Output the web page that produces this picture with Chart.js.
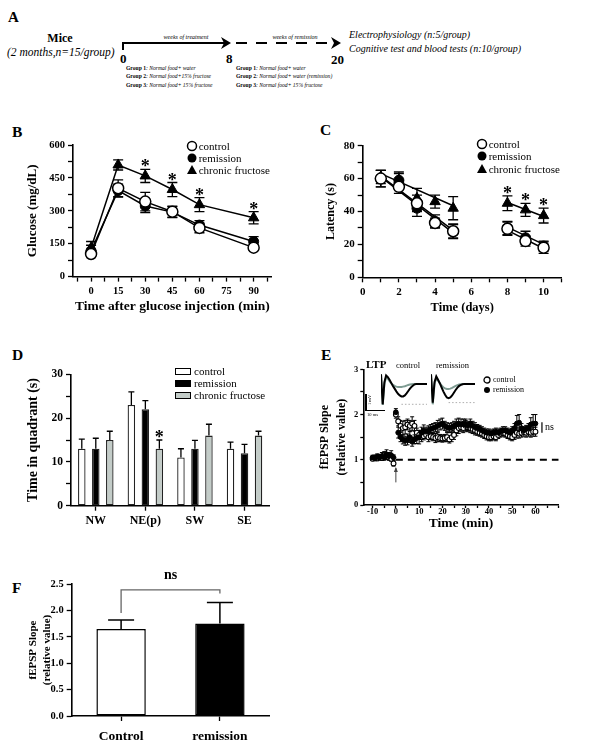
<!DOCTYPE html>
<html lang="en">
<head>
<meta charset="UTF-8">
<title>Fructose remission figure</title>
<script src="https://cdn.jsdelivr.net/npm/chart.js"></script>
<style>
  body { margin: 0; background: #fff; font-family: 'Liberation Serif', 'Times New Roman', serif; color: #000; }
  #fig { position: relative; width: 604px; height: 751px; overflow: hidden; }
  canvas, .abs { position: absolute; }
  .pl { position: absolute; font-weight: bold; font-size: 15.5px; line-height: 16px; }
  .row { position: absolute; height: 12px; line-height: 12px; font-size: 11px; white-space: nowrap; }
  .row svg { position: absolute; left: 0; top: 0; }
  .row span { position: absolute; left: 13px; top: 0; }
  .box { position: absolute; width: 16px; height: 7px; border: 1px solid #000; box-sizing: border-box; }
  .tiny { position: absolute; font-size: 8px; white-space: nowrap; line-height: 10px; }
</style>
</head>
<body>
<div id="fig">
  <!-- panel A: study design -->
  <svg class="abs" style="left:0;top:0" width="604" height="130" font-family="'Liberation Serif', serif">
    <text x="8" y="22" font-size="15" font-weight="bold">A</text>
    <text x="60" y="42" font-size="12" font-weight="bold" text-anchor="middle">Mice</text>
    <text x="7" y="56" font-size="11.5" font-style="italic">(2 months,n=15/group)</text>
    <line x1="123" y1="43" x2="226" y2="43" stroke="#000" stroke-width="2"/>
    <line x1="123" y1="42" x2="123" y2="50" stroke="#000" stroke-width="2"/>
    <polygon points="221,37 231,43 221,49 224,43" fill="#000"/>
    <text x="186" y="39" font-size="6" font-style="italic" text-anchor="middle">weeks of treatment</text>
    <text x="120" y="63" font-size="13" font-weight="bold">0</text>
    <text x="226" y="63" font-size="13" font-weight="bold">8</text>
    <line x1="236" y1="43" x2="333" y2="43" stroke="#000" stroke-width="2" stroke-dasharray="11,9"/>
    <polygon points="331,37 341,43 331,49 334,43" fill="#000"/>
    <text x="295" y="39" font-size="6" font-style="italic" text-anchor="middle">weeks of remission</text>
    <text x="331" y="64" font-size="13" font-weight="bold">20</text>
    <text x="349" y="38" font-size="10" font-style="italic">Electrophysiology (n:5/group)</text>
    <text x="349" y="52" font-size="10" font-style="italic">Cognitive test and blood tests (n:10/group)</text>
    <g font-size="5.6" fill="#000">
      <text x="126" y="69.5"><tspan font-weight="bold">Group 1</tspan><tspan font-style="italic">: Normal food+ water</tspan></text>
      <text x="126" y="78"><tspan font-weight="bold">Group 2</tspan><tspan font-style="italic">: Normal food+15% fructose</tspan></text>
      <text x="126" y="87"><tspan font-weight="bold">Group 3</tspan><tspan font-style="italic">: Normal food+ 15% fructose</tspan></text>
      <text x="236" y="69.5"><tspan font-weight="bold">Group 1</tspan><tspan font-style="italic">: Normal food+ water</tspan></text>
      <text x="236" y="78"><tspan font-weight="bold">Group 2</tspan><tspan font-style="italic">: Normal food+ water (remission)</tspan></text>
      <text x="236" y="87"><tspan font-weight="bold">Group 3</tspan><tspan font-style="italic">: Normal food+ 15% fructose</tspan></text>
    </g>
  </svg>

  <div class="pl" style="left:12px;top:124px">B</div>
  <div class="pl" style="left:320px;top:122px">C</div>
  <div class="pl" style="left:12px;top:347px">D</div>
  <div class="pl" style="left:321px;top:347px">E</div>
  <div class="pl" style="left:12px;top:580px">F</div>

  <canvas id="cB" width="300" height="215" style="left:0;top:130px"></canvas>
  <canvas id="cC" width="304" height="215" style="left:300px;top:130px"></canvas>
  <canvas id="cD" width="300" height="210" style="left:0;top:345px"></canvas>
  <canvas id="cE" width="304" height="210" style="left:300px;top:345px"></canvas>
  <canvas id="cF" width="300" height="191" style="left:0;top:560px"></canvas>
  <canvas id="cT1" width="46" height="33" style="left:381px;top:373px"></canvas>
  <canvas id="cT2" width="44" height="33" style="left:431px;top:373px"></canvas>

  <!-- legends -->
  <div class="row" style="left:185.7px;top:139.7px"><svg width="12" height="12"><circle cx="6" cy="6" r="4.5" fill="#fff" stroke="#000" stroke-width="1.5"/></svg><span>control</span></div>
  <div class="row" style="left:185.7px;top:152.3px"><svg width="12" height="12"><circle cx="6" cy="6" r="4.5" fill="#000"/></svg><span>remission</span></div>
  <div class="row" style="left:185.7px;top:164.3px"><svg width="12" height="12"><polygon points="6,1 11,10 1,10" fill="#000"/></svg><span>chronic fructose</span></div>

  <div class="row" style="left:475.7px;top:138px"><svg width="12" height="12"><circle cx="6" cy="6" r="4.5" fill="#fff" stroke="#000" stroke-width="1.5"/></svg><span>control</span></div>
  <div class="row" style="left:475.7px;top:150.3px"><svg width="12" height="12"><circle cx="6" cy="6" r="4.5" fill="#000"/></svg><span>remission</span></div>
  <div class="row" style="left:475.7px;top:162.7px"><svg width="12" height="12"><polygon points="6,1 11,10 1,10" fill="#000"/></svg><span>chronic fructose</span></div>

  <div class="box" style="left:174.5px;top:367.5px;background:#fff"></div>
  <div class="box" style="left:174.5px;top:379.5px;background:#000"></div>
  <div class="box" style="left:174.5px;top:391.7px;background:#c3ccc8"></div>
  <div class="row" style="left:181px;top:365px"><span>control</span></div>
  <div class="row" style="left:181px;top:377px"><span>remission</span></div>
  <div class="row" style="left:181px;top:389.3px"><span>chronic fructose</span></div>

  <!-- panel E extras -->
  <div class="tiny" style="left:483px;top:375px"><svg width="8" height="8" style="position:absolute;left:0;top:1px"><circle cx="4" cy="4" r="3" fill="#fff" stroke="#000" stroke-width="1.3"/></svg><span style="position:absolute;left:10px">control</span></div>
  <div class="tiny" style="left:483px;top:385px"><svg width="8" height="8" style="position:absolute;left:0;top:1px"><circle cx="4" cy="4" r="3" fill="#000"/></svg><span style="position:absolute;left:10px">remission</span></div>
  <div class="abs" style="left:366px;top:358px;font-size:11px;font-weight:bold">LTP</div>
  <div class="tiny" style="left:396px;top:360px;font-size:8.5px">control</div>
  <div class="tiny" style="left:436px;top:360px;font-size:8.5px">remission</div>
  <div class="abs" style="left:365px;top:394px;width:1.5px;height:16px;background:#000"></div>
  <div class="abs" style="left:365px;top:409.5px;width:20px;height:1.5px;background:#000"></div>
  <div class="abs" style="left:367px;top:411.5px;font-size:4.5px;line-height:5px">10 ms</div>
  <div class="abs" style="left:367px;top:405px;font-size:4.5px;line-height:5px;transform:rotate(-90deg);transform-origin:left top">1 mV</div>
</div>

<script>
// ---------- B: glucose tolerance test ----------
const gttTime = [0, 15, 30, 45, 60, 90];
const gttControl = [103, 403, 342, 296, 222, 132];
const gttControlErr = [12, 38, 42, 25, 22, 12];
const gttRemission = [118, 392, 322, 294, 235, 160];
const gttRemissionErr = [25, 30, 30, 25, 20, 22];
const gttFructose = [130, 509, 459, 397, 328, 268];
const gttFructoseErr = [30, 23, 30, 32, 32, 28];
const gttStars = [false, false, true, true, true, true];
const gttXTicks = [-7.5, 0, 7.5, 15, 22.5, 30, 37.5, 45, 52.5, 60, 67.5, 75, 82.5, 90, 97.5];
const gttXLabels = [0, 15, 30, 45, 60, 75, 90];
const gttYTicks = [0, 75, 150, 225, 300, 375, 450, 525, 600];
const gttYLabels = [0, 150, 300, 450, 600];

// ---------- C: water maze latency ----------
const latDays = [1, 2, 3, 4, 5, 8, 9, 10];
const latControl = [60, 55, 45, 33, 28, 29.5, 22, 18];
const latControlErr = [5, 4, 5, 3, 4.5, 4, 3, 3.5];
const latRemission = [60, 59, 42, 34, 28, 30, 24, 19];
const latRemissionErr = [5, 5, 5, 4, 4, 4, 4, 3];
const latFructose = [61, 59, 48, 46, 42, 45, 41, 37.5];
const latFructoseErr = [4, 4, 6, 4, 7, 4.5, 4, 4.5];
const latStars = [false, false, false, false, false, true, true, true];
const latFitDays = [1, 5, 8, 10];
const latFitControl = [61, 27, 28.5, 17.5];
const latFitRemission = [61.5, 28.5, 30.5, 20];
const latFitFructose = [63, 43.5, 45.5, 37];
const latXTicks = [0, 1, 2, 3, 4, 5, 6, 7, 8, 9, 10, 11];
const latXLabels = [0, 2, 4, 6, 8, 10];
const latYTicks = [0, 10, 20, 30, 40, 50, 60, 70, 80];
const latYLabels = [0, 20, 40, 60, 80];

// ---------- D: probe trial quadrants ----------
const quadrants = ['NW', 'NE(p)', 'SW', 'SE'];
const quadControl = [13, 23, 11, 13];
const quadControlErr = [2.2, 3, 2, 1.5];
const quadRemission = [13, 22, 13, 12];
const quadRemissionErr = [2.4, 2, 1.9, 2];
const quadFructose = [15, 13, 16, 16];
const quadFructoseErr = [2, 2, 2.6, 1];
const quadStars = [false, true, false, false];
const quadYTicks = [0, 5, 10, 15, 20, 25, 30];
const quadYLabels = [0, 10, 20, 30];

// ---------- E: LTP time course ----------
const ltpTime = [-10, -9, -8, -7, -6, -5, -4, -3, -2, -1,
  0, 1, 2, 3, 4, 5, 6, 7, 8, 9, 10, 11, 12, 13, 14, 15, 16, 17, 18, 19,
  20, 21, 22, 23, 24, 25, 26, 27, 28, 29, 30, 31, 32, 33, 34, 35, 36, 37, 38, 39,
  40, 41, 42, 43, 44, 45, 46, 47, 48, 49, 50, 51, 52, 53, 54, 55, 56, 57, 58, 59, 60];
const ltpControl = [1.02, 1.05, 1.03, 1.06, 1.04, 1.10, 1.08, 1.05, 1.02, 0.92,
  2.00, 1.85, 1.75, 1.70, 1.72, 1.78, 1.75, 1.80, 1.75, 1.60,
  1.55, 1.50, 1.52, 1.55, 1.50, 1.52, 1.50, 1.48, 1.50, 1.48,
  1.47, 1.48, 1.50, 1.45, 1.50, 1.55, 1.65, 1.70, 1.72, 1.70,
  1.75, 1.72, 1.70, 1.68, 1.65, 1.62, 1.60, 1.58, 1.55, 1.52,
  1.50, 1.50, 1.52, 1.50, 1.55, 1.58, 1.60, 1.58, 1.55, 1.52,
  1.50, 1.55, 1.60, 1.58, 1.60, 1.62, 1.60, 1.62, 1.60, 1.62, 1.62];
const ltpControlErr = [0.04, 0.05, 0.05, 0.06, 0.05, 0.08, 0.07, 0.06, 0.05, 0.06,
  0.08, 0.10, 0.12, 0.15, 0.15, 0.12, 0.12, 0.15, 0.12, 0.10,
  0.10, 0.10, 0.08, 0.08, 0.10, 0.08, 0.08, 0.10, 0.10, 0.08,
  0.08, 0.08, 0.10, 0.08, 0.10, 0.10, 0.12, 0.12, 0.10, 0.10,
  0.12, 0.10, 0.10, 0.10, 0.10, 0.08, 0.08, 0.08, 0.08, 0.08,
  0.08, 0.08, 0.08, 0.08, 0.08, 0.08, 0.08, 0.08, 0.08, 0.08,
  0.08, 0.10, 0.12, 0.10, 0.10, 0.10, 0.10, 0.10, 0.10, 0.10, 0.10];
const ltpRemission = [1.05, 1.03, 1.07, 1.05, 1.08, 1.05, 1.12, 1.08, 1.10, 1.05,
  2.05, 1.60, 1.50, 1.45, 1.42, 1.45, 1.50, 1.40, 1.45, 1.48,
  1.50, 1.60, 1.65, 1.62, 1.65, 1.68, 1.70, 1.72, 1.75, 1.78,
  1.80, 1.75, 1.72, 1.70, 1.72, 1.75, 1.78, 1.80, 1.78, 1.80,
  1.78, 1.75, 1.80, 1.75, 1.72, 1.70, 1.68, 1.65, 1.62, 1.60,
  1.60, 1.58, 1.60, 1.62, 1.60, 1.62, 1.65, 1.65, 1.62, 1.60,
  1.65, 1.70, 1.80, 1.82, 1.70, 1.65, 1.68, 1.70, 1.78, 1.80, 1.80];
const ltpRemissionErr = [0.05, 0.05, 0.06, 0.05, 0.08, 0.06, 0.10, 0.08, 0.10, 0.06,
  0.08, 0.12, 0.10, 0.10, 0.10, 0.12, 0.12, 0.10, 0.10, 0.12,
  0.15, 0.12, 0.12, 0.10, 0.10, 0.10, 0.10, 0.10, 0.12, 0.12,
  0.12, 0.10, 0.10, 0.10, 0.10, 0.10, 0.12, 0.12, 0.12, 0.10,
  0.12, 0.10, 0.10, 0.10, 0.10, 0.08, 0.08, 0.08, 0.08, 0.08,
  0.08, 0.08, 0.08, 0.08, 0.08, 0.08, 0.08, 0.08, 0.08, 0.08,
  0.08, 0.10, 0.18, 0.18, 0.10, 0.08, 0.08, 0.10, 0.15, 0.20, 0.20];
const ltpBaseline = [0, 70];
const ltpXTicks = [-10, -5, 0, 5, 10, 15, 20, 25, 30, 35, 40, 45, 50, 55, 60, 65, 70];
const ltpXLabels = [-10, 0, 10, 20, 30, 40, 50, 60];
const ltpYTicks = [0, 0.5, 1, 1.5, 2, 2.5, 3];
const ltpYLabels = [0, 1, 2, 3];

// inset traces (sample index vs mV)
const traceCtrlBlack = [0.28, -0.6, 0.05, 0.25, 0.2, 0.12, 0.03, -0.06, -0.14, -0.22, -0.29, -0.34, -0.37, -0.37,
  -0.34, -0.28, -0.21, -0.14, -0.08, -0.04, -0.01, 0, 0, 0, 0, 0, 0, 0];
const traceCtrlGray = [0.28, -0.62, 0, 0.2, 0.15, 0.08, 0.02, -0.03, -0.06, -0.08, -0.09, -0.09, -0.09, -0.08,
  -0.07, -0.05, -0.03, -0.02, -0.01, 0, 0, 0, 0, 0, 0, 0, 0, 0];
const traceRemBlack = [0.28, -0.55, 0.05, 0.22, 0.12, 0.02, -0.1, -0.22, -0.32, -0.4, -0.42, -0.4, -0.34,
  -0.26, -0.18, -0.11, -0.06, -0.03, -0.01, 0, 0, 0, 0, 0, 0, 0];
const traceRemGray = [0.28, -0.6, 0, 0.18, 0.1, 0.02, -0.05, -0.1, -0.13, -0.15, -0.15, -0.14, -0.12,
  -0.09, -0.06, -0.04, -0.02, -0.01, 0, 0, 0, 0, 0, 0, 0, 0];

// ---------- F: LTP magnitude ----------
const fGroups = ['Control', 'remission'];
const fSlope = [1.65, 1.75];
const fSlopeErr = [0.17, 0.4];
const fBracket = [1.95, 2.39, 2.32];
const fYTicks = [0, 0.5, 1, 1.5, 2, 2.5];

Chart.defaults.font.family = "'Liberation Serif', 'Times New Roman', serif";
Chart.defaults.color = '#000';
Chart.defaults.animation = false;
Chart.defaults.events = [];
Chart.defaults.plugins.legend.display = false;
Chart.defaults.plugins.tooltip.enabled = false;

const pts = (xs, ys) => xs.map((x, i) => ({x: x, y: ys[i]}));

// error bars and significance stars, read from dataset.err / dataset.stars
function drawErr(chart, phase) {
  const ctx = chart.ctx;
  chart.data.datasets.forEach((ds, i) => {
    if (!ds.err || (ds.errPhase || 'before') !== phase) return;
    const meta = chart.getDatasetMeta(i);
    const ys = chart.scales[meta.yAxisID];
    ctx.save();
    ctx.strokeStyle = '#000';
    ctx.lineWidth = ds.errWidth || 1.3;
    meta.data.forEach((el, j) => {
      const raw = ds.data[j];
      const v = (raw && typeof raw === 'object') ? raw.y : raw;
      const e = ds.err[j];
      if (v == null || e == null) return;
      const top = ys.getPixelForValue(v + e);
      const bot = ys.getPixelForValue(ds.errUp ? v : v - e);
      const c = (ds.capW || 8) / 2;
      ctx.beginPath();
      ctx.moveTo(el.x, bot); ctx.lineTo(el.x, top);
      ctx.moveTo(el.x - c, top); ctx.lineTo(el.x + c, top);
      if (!ds.errUp) { ctx.moveTo(el.x - c, bot); ctx.lineTo(el.x + c, bot); }
      ctx.stroke();
    });
    ctx.restore();
  });
}
const errorBars = {
  id: 'errorBars',
  beforeDatasetsDraw(chart) { drawErr(chart, 'before'); },
  afterDatasetsDraw(chart) {
    drawErr(chart, 'after');
    const ctx = chart.ctx;
    chart.data.datasets.forEach((ds, i) => {
      if (!ds.stars) return;
      const meta = chart.getDatasetMeta(i);
      const ys = chart.scales[meta.yAxisID];
      ctx.save();
      ctx.font = 'bold 18px ' + Chart.defaults.font.family;
      ctx.textAlign = 'center';
      ctx.textBaseline = 'alphabetic';
      meta.data.forEach((el, j) => {
        if (!ds.stars[j]) return;
        const raw = ds.data[j];
        const v = (raw && typeof raw === 'object') ? raw.y : raw;
        ctx.fillText('*', el.x, ys.getPixelForValue(v + ds.err[j]) + 3);
      });
      ctx.restore();
    });
  }
};

function axis(o) {
  const a = {
    type: o.type || 'linear',
    grid: { display: true, drawOnChartArea: false, drawTicks: true, tickLength: o.tl || 5, tickWidth: 1.3, tickColor: '#000', offset: false },
    border: { display: true, color: '#000', width: 1.6 },
    ticks: { autoSkip: false, maxRotation: 0, padding: o.pad !== undefined ? o.pad : 3, font: { size: o.fs || 10.5, weight: 'bold' } },
    title: { display: false },
    afterFit: s => { if (o.w != null) s.width = o.w; if (o.h != null) s.height = o.h; }
  };
  if (o.min !== undefined) a.min = o.min;
  if (o.max !== undefined) a.max = o.max;
  if (o.cb) a.ticks.callback = o.cb;
  if (o.ticks) a.afterBuildTicks = s => { s.ticks = o.ticks.map(v => ({value: v})); };
  if (o.title) a.title = { display: true, text: o.title, padding: 0, font: { size: o.tfs, weight: 'bold', lineHeight: o.tlh || 1.2 } };
  return a;
}
const only = list => v => list.includes(v) ? v : '';

const openPt = { pointStyle: 'circle', pointRadius: 5.5, pointBackgroundColor: '#fff', pointBorderColor: '#000', pointBorderWidth: 1.5 };
const fillPt = { pointStyle: 'circle', pointRadius: 5, pointBackgroundColor: '#000', pointBorderColor: '#000', pointBorderWidth: 1 };
const triPt = { pointStyle: 'triangle', pointRadius: 6, pointBackgroundColor: '#000', pointBorderColor: '#000', pointBorderWidth: 1 };

// B
new Chart(document.getElementById('cB'), {
  type: 'line',
  data: { datasets: [
    Object.assign({ label: 'control', data: pts(gttTime, gttControl), err: gttControlErr, borderColor: '#000', borderWidth: 1.5, capW: 10 }, openPt),
    Object.assign({ label: 'remission', data: pts(gttTime, gttRemission), err: gttRemissionErr, borderColor: '#000', borderWidth: 1.5, capW: 10 }, fillPt),
    Object.assign({ label: 'chronic fructose', data: pts(gttTime, gttFructose), err: gttFructoseErr, stars: gttStars, borderColor: '#000', borderWidth: 1.5, capW: 10 }, triPt)
  ] },
  options: {
    responsive: false, devicePixelRatio: 1,
    layout: { padding: { left: 25, top: 15, right: 28.3, bottom: 30 } },
    scales: {
      x: axis({ min: -10, max: 100, ticks: gttXTicks, cb: only(gttXLabels), title: 'Time after glucose injection (min)', tfs: 13.5, h: 38.4 }),
      y: axis({ min: 0, max: 600, ticks: gttYTicks, cb: only(gttYLabels), title: 'Glucose (mg/dL)', tfs: 13, w: 48 })
    }
  },
  plugins: [errorBars]
});

// C
const fitData = ys => [{x: latFitDays[0], y: ys[0]}, {x: latFitDays[1], y: ys[1]}, {x: 6.5, y: null},
  {x: latFitDays[2], y: ys[2]}, {x: latFitDays[3], y: ys[3]}];
const fitLine = { showLine: true, pointRadius: 0, borderColor: '#000', borderWidth: 1.5, spanGaps: false };
new Chart(document.getElementById('cC'), {
  type: 'line',
  data: { datasets: [
    Object.assign({ label: 'control', data: pts(latDays, latControl), err: latControlErr, showLine: false, capW: 10 }, openPt),
    Object.assign({ label: 'remission', data: pts(latDays, latRemission), err: latRemissionErr, showLine: false, capW: 10 }, fillPt),
    Object.assign({ label: 'chronic fructose', data: pts(latDays, latFructose), err: latFructoseErr, stars: latStars, showLine: false, capW: 10 }, triPt),
    Object.assign({ label: 'fit control', data: fitData(latFitControl) }, fitLine),
    Object.assign({ label: 'fit remission', data: fitData(latFitRemission) }, fitLine),
    Object.assign({ label: 'fit fructose', data: fitData(latFitFructose) }, fitLine)
  ] },
  options: {
    responsive: false, devicePixelRatio: 1,
    layout: { padding: { left: 23.9, top: 15.7, right: 42.3, bottom: 29.9 } },
    scales: {
      x: axis({ min: 0, max: 11, ticks: latXTicks, cb: only(latXLabels), fs: 11, title: 'Time (days)', tfs: 12.5, h: 37.8 }),
      y: axis({ min: 0, max: 80, ticks: latYTicks, cb: only(latYLabels), fs: 11, title: 'Latency (s)', tfs: 12, w: 38.8 })
    }
  },
  plugins: [errorBars]
});

// D
const barD = { borderColor: '#222', borderWidth: 1.3, borderSkipped: false, barPercentage: 0.536, categoryPercentage: 0.847, errUp: true, errPhase: 'after', capW: 6 };
new Chart(document.getElementById('cD'), {
  type: 'bar',
  data: { labels: quadrants, datasets: [
    Object.assign({ label: 'control', data: quadControl, err: quadControlErr, backgroundColor: '#fff' }, barD),
    Object.assign({ label: 'remission', data: quadRemission, err: quadRemissionErr, backgroundColor: '#000' }, barD),
    Object.assign({ label: 'chronic fructose', data: quadFructose, err: quadFructoseErr, stars: quadStars, backgroundColor: '#c3ccc8' }, barD)
  ] },
  options: {
    responsive: false, devicePixelRatio: 1,
    layout: { padding: { left: 24.9, top: 29.3, right: 30.7, bottom: 19.3 } },
    scales: {
      x: axis({ type: 'category', fs: 12, h: 30 }),
      y: axis({ min: 0, max: 30, ticks: quadYTicks, cb: only(quadYLabels), fs: 11.5, title: 'Time in quadrant (s)', tfs: 14, w: 46.1 })
    }
  },
  plugins: [errorBars]
});

// E
const ltpMarks = {
  id: 'ltpMarks',
  afterDatasetsDraw(chart) {
    const {ctx, scales: {x, y}} = chart;
    ctx.save();
    ctx.strokeStyle = '#444'; ctx.fillStyle = '#444'; ctx.lineWidth = 1;
    const ax = x.getPixelForValue(0);
    ctx.beginPath();
    ctx.moveTo(ax, y.getPixelForValue(0.5)); ctx.lineTo(ax, y.getPixelForValue(0.82));
    ctx.stroke();
    ctx.beginPath();
    const tip = y.getPixelForValue(0.82);
    ctx.moveTo(ax, tip - 1); ctx.lineTo(ax - 2, tip + 4); ctx.lineTo(ax + 2, tip + 4); ctx.closePath(); ctx.fill();
    // ns bracket
    const bx = x.getPixelForValue(62.8);
    ctx.strokeStyle = '#000'; ctx.lineWidth = 1.2;
    ctx.beginPath();
    ctx.moveTo(bx, y.getPixelForValue(1.6)); ctx.lineTo(bx, y.getPixelForValue(1.83));
    ctx.stroke();
    ctx.fillStyle = '#000';
    ctx.font = '10px ' + Chart.defaults.font.family;
    ctx.textBaseline = 'middle';
    ctx.fillText('ns', bx + 3, y.getPixelForValue(1.72));
    ctx.restore();
  }
};
new Chart(document.getElementById('cE'), {
  type: 'line',
  data: { datasets: [
    { label: 'remission', data: pts(ltpTime, ltpRemission), err: ltpRemissionErr, showLine: false, capW: 4, errWidth: 1,
      pointRadius: 2.4, pointBackgroundColor: '#000', pointBorderColor: '#000', pointBorderWidth: 1 },
    { label: 'control', data: pts(ltpTime, ltpControl), err: ltpControlErr, showLine: false, capW: 4, errWidth: 1,
      pointRadius: 2.4, pointBackgroundColor: '#fff', pointBorderColor: '#000', pointBorderWidth: 1.1 },
    { label: 'baseline', data: ltpBaseline.map(t => ({x: t, y: 1})), showLine: true, pointRadius: 0,
      borderColor: '#000', borderWidth: 2, borderDash: [7, 5] }
  ] },
  options: {
    responsive: false, devicePixelRatio: 1,
    layout: { padding: { left: 16.6, top: 24.3, right: 45.3, bottom: 23.7 } },
    scales: {
      x: axis({ min: -14, max: 70, ticks: ltpXTicks, cb: only(ltpXLabels), fs: 8.5, tl: 3, pad: -1, title: 'Time (min)', tfs: 13.5, h: 26.3 }),
      y: axis({ min: 0, max: 3, ticks: ltpYTicks, cb: only(ltpYLabels), fs: 8.5, tl: 3, pad: 2, title: ['fEPSP Slope', '(relative value)'], tfs: 12, tlh: 1.39, w: 46.7 })
    }
  },
  plugins: [errorBars, ltpMarks]
});

// inset traces
function trace(id, black, gray, trough) {
  const idx = black.map((_, i) => i);
  new Chart(document.getElementById(id), {
    type: 'line',
    data: { datasets: [
      { data: pts(idx, black), borderColor: '#000', borderWidth: 2, pointRadius: 0 },
      { data: pts(idx, gray), borderColor: '#7f9c93', borderWidth: 2, pointRadius: 0 },
      { data: [{x: trough, y: Math.min(...black)}, {x: idx.length - 1, y: Math.min(...black)}],
        borderColor: '#999', borderWidth: 0.8, borderDash: [1.5, 2], pointRadius: 0 }
    ] },
    options: {
      responsive: false, devicePixelRatio: 1, layout: { padding: 0 },
      scales: {
        x: { type: 'linear', display: false, min: 0, max: idx.length - 1 },
        y: { display: false, min: -0.65, max: 0.32 }
      }
    }
  });
}
trace('cT1', traceCtrlBlack, traceCtrlGray, 12);
trace('cT2', traceRemBlack, traceRemGray, 10);

// F
const fMarks = {
  id: 'fMarks',
  afterDatasetsDraw(chart) {
    const {ctx, scales: {x, y}} = chart;
    const x0 = x.getPixelForValue(0), x1 = x.getPixelForValue(1);
    ctx.save();
    ctx.strokeStyle = '#666'; ctx.lineWidth = 1.3;
    ctx.beginPath();
    ctx.moveTo(x0, y.getPixelForValue(fBracket[0]));
    ctx.lineTo(x0, y.getPixelForValue(fBracket[1]));
    ctx.lineTo(x1, y.getPixelForValue(fBracket[1]));
    ctx.lineTo(x1, y.getPixelForValue(fBracket[2]));
    ctx.stroke();
    ctx.fillStyle = '#000';
    ctx.font = 'bold 14px ' + Chart.defaults.font.family;
    ctx.textAlign = 'center'; ctx.textBaseline = 'middle';
    ctx.fillText('ns', (x0 + x1) / 2, y.getPixelForValue(fBracket[1]) - 14);
    ctx.restore();
  }
};
new Chart(document.getElementById('cF'), {
  type: 'bar',
  data: { labels: fGroups, datasets: [
    { label: 'fEPSP', data: fSlope, err: fSlopeErr, errUp: true, errPhase: 'after', capW: 26, errWidth: 1.5,
      backgroundColor: ['#fff', '#000'], borderColor: '#000', borderWidth: 1.5, borderSkipped: false,
      barPercentage: 0.5, categoryPercentage: 1 }
  ] },
  options: {
    responsive: false, devicePixelRatio: 1,
    layout: { padding: { left: 26, top: 24, right: 30.7, bottom: 0 } },
    scales: {
      x: axis({ type: 'category', fs: 13.5, pad: 7.7, h: 35 }),
      y: axis({ min: 0, max: 2.5, ticks: fYTicks, cb: v => v.toFixed(1), fs: 10.5, title: ['fEPSP Slope', '(relative value)'], tfs: 11, tlh: 1.3, w: 45.7 })
    }
  },
  plugins: [errorBars, fMarks]
});
</script>
</body>
</html>
